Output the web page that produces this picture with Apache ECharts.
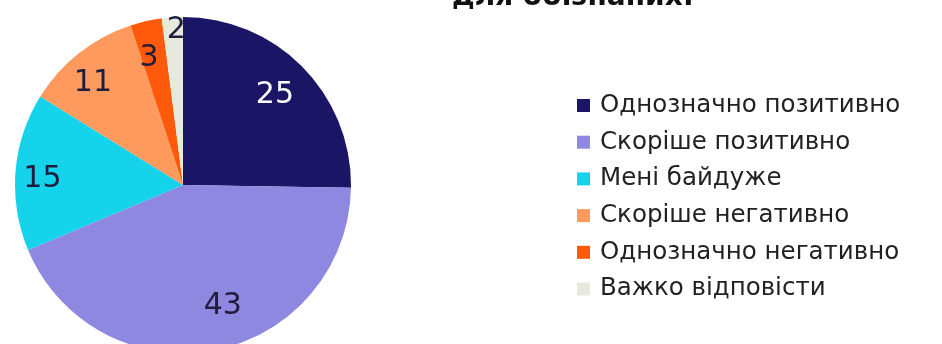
<!DOCTYPE html>
<html><head><meta charset="utf-8">
<script src="https://cdn.jsdelivr.net/npm/echarts@6/dist/echarts.min.js"></script>
<style>html,body{margin:0;padding:0;background:#fff}#c{width:942px;height:344px}</style>
</head><body><div id="c"></div>
<script>
const titleText = 'для обізнаних:';
const categories = ['Однозначно позитивно','Скоріше позитивно','Мені байдуже','Скоріше негативно','Однозначно негативно','Важко відповісти'];
const values = [25, 43, 15, 11, 3, 2];
const colors = ['#1b1566','#8f88e0','#16d3ec','#ff9a5e','#ff5a0c','#e5eadc'];
const labelColors = ['#ffffff','#1f1d3a','#1f1d3a','#1f1d3a','#1f1d3a','#1f1d3a'];
// small label nudges (style only), mimicking the original label placement
const labelNudges = [[-5,6],[14,-12],[-5,5],[-6,5],[-4,6],[2,-19]];

const chart = echarts.init(document.getElementById('c'));
const font = 'DejaVu Sans';
const pieData = categories.map((n,i)=>({name:n,value:values[i],itemStyle:{color:colors[i]}}));
const labelData = categories.map((n,i)=>({name:n,value:values[i],label:{color:labelColors[i],offset:labelNudges[i]}}));
chart.setOption({
  animation:false,
  backgroundColor:'#fff',
  title:{text:titleText,left:568,textAlign:'center',top:-21,textStyle:{fontFamily:font,fontSize:28,fontWeight:'bold',color:'#111'}},
  legend:{orient:'vertical',left:572,top:88,itemWidth:13,itemHeight:13,itemGap:11.7,icon:'rect',
    data:categories,
    textStyle:{fontFamily:font,fontSize:24.5,color:'#222',padding:[0,0,0,5]}},
  series:[
    {type:'pie',center:[183,185],radius:168,startAngle:90,clockwise:true,label:{show:false},labelLine:{show:false},
     data:pieData,silent:true},
    {type:'pie',center:[183,185],radius:[98,168],startAngle:90,clockwise:true,silent:true,legendHoverLink:false,
     itemStyle:{color:'rgba(0,0,0,0)'},labelLine:{show:false},
     label:{show:true,position:'inside',formatter:'{c}',fontFamily:font,fontSize:30,fontWeight:'normal'},
     data:labelData}
  ]
});
</script></body></html>
